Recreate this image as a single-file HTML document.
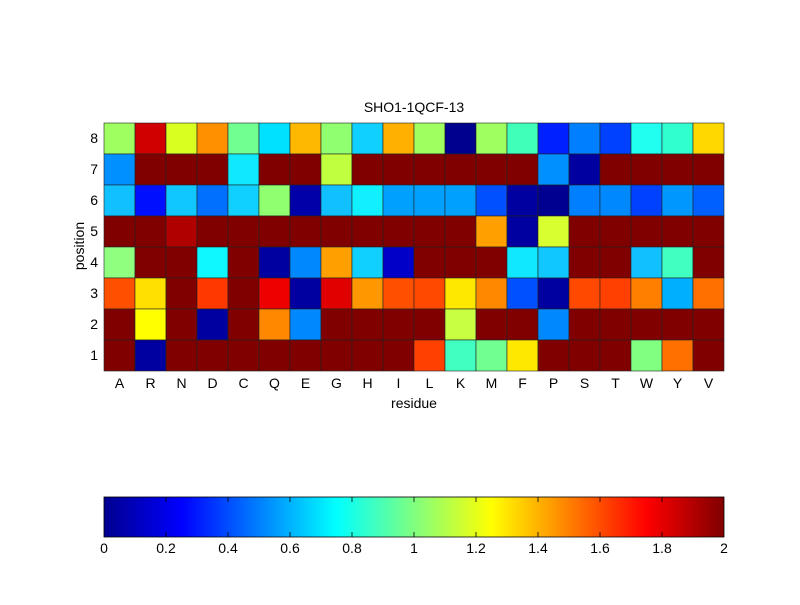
<!DOCTYPE html>
<html><head><style>
body{margin:0;background:#fff;width:800px;height:600px;overflow:hidden;font-family:"Liberation Sans",Arial,sans-serif;}
</style></head><body>
<svg width="800" height="600" xmlns="http://www.w3.org/2000/svg" font-family="Liberation Sans, Arial, sans-serif" font-size="14">
<defs>
<linearGradient id="jet" x1="0" x2="1" y1="0" y2="0">
<stop offset="0" stop-color="#00008f"/>
<stop offset="0.125" stop-color="#0000ff"/>
<stop offset="0.375" stop-color="#00ffff"/>
<stop offset="0.625" stop-color="#ffff00"/>
<stop offset="0.875" stop-color="#ff0000"/>
<stop offset="1" stop-color="#800000"/>
</linearGradient>
</defs>
<text x="414" y="112" text-anchor="middle">SHO1-1QCF-13</text>
<g id="grid" stroke="#222" stroke-width="0.6"></g>
<g text-anchor="end" id="ylab"></g>
<g text-anchor="middle" id="xlab"></g>
<text x="414" y="408" text-anchor="middle">residue</text>
<text transform="translate(84,246) rotate(-90)" text-anchor="middle">position</text>
<rect x="104" y="497" width="620" height="40" fill="url(#jet)" stroke="#000" stroke-width="0.8"/>
<g id="cb" text-anchor="middle"></g>
</svg>
<script>
var D='#800000';
var rows=[
['#a0ff60','#d00000','#d8ff20','#ff9000','#70ff90','#00e0ff','#ffb800','#90ff70','#10d0ff','#ffb000','#a0ff60','#00008f','#a0ff60','#40ffb8','#0020ff','#0080ff','#0040ff','#20fff0','#30ffd0','#ffd800'],
['#0090ff',D,D,D,'#10e8ff',D,D,'#c0ff40',D,D,D,D,D,D,'#0090ff','#0000a0',D,D,D,D],
['#10c0ff','#0010ff','#10c8ff','#0070ff','#10d0ff','#90ff70','#0000a8','#10c0ff','#10f0ff','#00a0ff','#00a0ff','#00a0ff','#0050ff','#0000a0','#000090','#0080ff','#0088ff','#0040ff','#0098ff','#0060ff'],
[D,D,'#b00000',D,D,D,D,D,D,D,D,D,'#ffa000','#0000a0','#d8ff30',D,D,D,D,D],
['#90ff80',D,D,'#10f8ff',D,'#0000a0','#0088ff','#ffa000','#10d0ff','#0000c8',D,D,D,'#10e8ff','#10c8ff',D,D,'#10c0ff','#40ffc0',D],
['#ff5000','#ffe000',D,'#ff3800',D,'#ee0000','#0000a0','#e00000','#ff9800','#ff5000','#ff4800','#ffe800','#ff8800','#0050ff','#0000a0','#ff4800','#ff4000','#ff8000','#00b0ff','#ff7000'],
[D,'#ffff00',D,'#0000a0',D,'#ff8800','#0088ff',D,D,D,D,'#c8ff40',D,D,'#0088ff',D,D,D,D,D],
[D,'#0000a0',D,D,D,D,D,D,D,D,'#ff4000','#40ffc0','#70ff90','#ffe800',D,D,D,'#80ff80','#ff7000',D]];
var res='ARNDCQEGHILKMFPSTWYV';
var ns='http://www.w3.org/2000/svg';
function el(t,a,p,txt){var e=document.createElementNS(ns,t);for(var k in a)e.setAttribute(k,a[k]);if(txt!==undefined)e.textContent=txt;document.getElementById(p).appendChild(e);}
for(var r=0;r<8;r++){for(var c=0;c<20;c++){el('rect',{x:104+c*31,y:123+r*31,width:31,height:31,fill:rows[r][c]},'grid');}
el('text',{x:98,y:123+r*31+20},'ylab',String(8-r));}
for(var c=0;c<20;c++)el('text',{x:104+c*31+15.5,y:388},'xlab',res[c]);
for(var i=0;i<=10;i++){var x=104+i*62;var lab=(i*0.2).toFixed(1).replace(/\.0$/,'');
el('text',{x:x,y:553},'cb',lab);
if(i>0&&i<10){el('line',{x1:x,x2:x,y1:497,y2:502,stroke:'#000','stroke-width':0.8},'cb');el('line',{x1:x,x2:x,y1:532,y2:537,stroke:'#000','stroke-width':0.8},'cb');}}
</script>
</body></html>
